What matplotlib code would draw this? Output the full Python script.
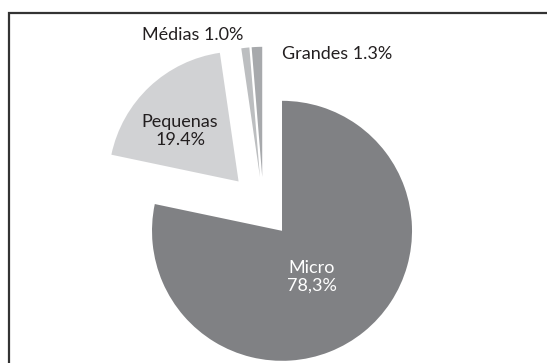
import matplotlib
matplotlib.use("Agg")
import matplotlib.pyplot as plt
from matplotlib.patches import Rectangle

# Distribuição das empresas por porte
categorias = ["Micro", "Pequenas", "Médias", "Grandes"]
percentuais = [78.3, 19.4, 1.0, 1.3]
rotulos = ["Micro\n78,3%", "Pequenas\n19.4%", "Médias 1.0%", "Grandes 1.3%"]

cores = ["#808184", "#d1d2d4", "#bcbec0", "#a7a9ac"]
explode = [0.226, 0.28, 0.24, 0.24]

plt.rcParams["font.family"] = ["Lato", "DejaVu Sans"]

fig = plt.figure(figsize=(5.47, 3.63), dpi=100)
ax = fig.add_axes([0, 0, 1, 1])

wedges, _ = ax.pie(percentuais, colors=cores, explode=explode,
                   startangle=90, counterclock=False, radius=1,
                   wedgeprops=dict(linewidth=0))

ax.set_xlim(-263.5 / 130, (547 - 263.5) / 130)
ax.set_ylim(-(363 - 208) / 130, 208 / 130)
ax.set_aspect("auto")
ax.axis("off")

# rótulos
ax.text(0.372, -0.531, rotulos[0], ha="center", va="center",
        fontsize=13, color="white", linespacing=1.15)
ax.text(-0.642, 0.592, rotulos[1], ha="center", va="center",
        fontsize=13, color="#231f20", linespacing=1.15)
ax.text(-0.158, 1.33, rotulos[2], ha="right", va="center",
        fontsize=13, color="#231f20")
ax.text(0.142, 1.185, rotulos[3], ha="left", va="center",
        fontsize=13, color="#231f20")

# moldura
fig.add_artist(Rectangle((8.5 / 547, -0.1), 1.2, (363 - 12.5) / 363 + 0.1,
                         transform=fig.transFigure, fill=False,
                         edgecolor="#333333", linewidth=1.6))

fig.savefig("out.png", dpi=100)
